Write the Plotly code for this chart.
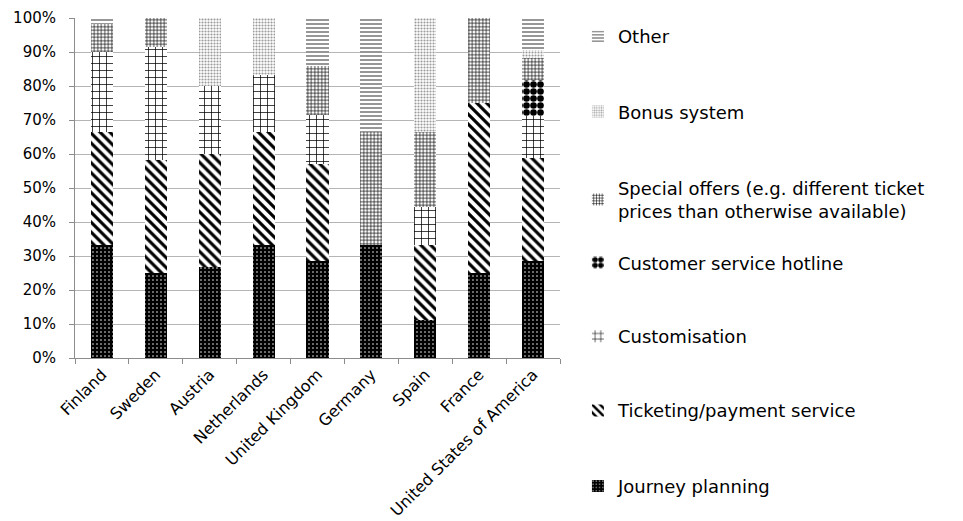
import plotly.graph_objects as go

countries = ["Finland", "Sweden", "Austria", "Netherlands", "United Kingdom",
             "Germany", "Spain", "France", "United States of America"]

journey_planning = [33.3, 25.0, 26.7, 33.3, 28.6, 33.3, 11.1, 25.0, 28.4]
ticketing_payment = [33.3, 33.3, 33.3, 33.3, 28.6, 0.0, 22.2, 50.0, 30.4]
customisation = [23.3, 33.3, 20.0, 16.7, 14.3, 0.0, 11.1, 0.0, 12.4]
customer_hotline = [0.0, 0.0, 0.0, 0.0, 0.0, 0.0, 0.0, 0.0, 10.7]
special_offers = [8.3, 8.4, 0.0, 0.0, 14.3, 33.3, 22.2, 25.0, 6.3]
bonus_system = [0.0, 0.0, 20.0, 16.7, 0.0, 0.0, 33.4, 0.0, 2.5]
other = [1.8, 0.0, 0.0, 0.0, 14.2, 33.4, 0.0, 0.0, 9.3]

y_ticks = [0, 10, 20, 30, 40, 50, 60, 70, 80, 90, 100]
y_tick_labels = ["0%", "10%", "20%", "30%", "40%", "50%", "60%", "70%", "80%", "90%", "100%"]

FONT = "DejaVu Sans"


def pat(shape, fg, bg, size, solidity):
    return dict(shape=shape, fgcolor=fg, bgcolor=bg, size=size,
                solidity=solidity, fgopacity=1, fillmode="replace")


series = [
    ("Journey planning", journey_planning,
     dict(color="black", pattern=pat(".", "white", "black", 4, 0.12))),
    ("Ticketing/payment service", ticketing_payment,
     dict(color="white", pattern=pat("\\", "black", "white", 7, 0.45))),
    ("Customisation", customisation,
     dict(color="white", pattern=pat("+", "black", "white", 7, 0.2))),
    ("Customer service hotline", customer_hotline,
     dict(color="white", pattern=pat(".", "black", "white", 7, 0.7))),
    ("Special offers (e.g. different ticket<br>prices than otherwise available)", special_offers,
     dict(color="white", pattern=pat("+", "black", "white", 3.5, 0.35))),
    ("Bonus system", bonus_system,
     dict(color="white", pattern=pat(".", "#9a9a9a", "white", 3, 0.4))),
    ("Other", other,
     dict(color="white", pattern=pat("-", "#6a6a6a", "white", 4, 0.35))),
]

# legend vertical positions (paper coords), one legend per series
legend_y = [-0.377, -0.155, 0.063, 0.280, 0.466, 0.724, 0.945]

fig = go.Figure()
for i, (name, vals, marker) in enumerate(series):
    lg = "legend" if i == 0 else f"legend{i+1}"
    fig.add_trace(go.Bar(
        x=countries, y=vals, name=name,
        marker=dict(line=dict(width=0), **marker),
        legend=lg,
    ))

layout_legends = {}
for i, yy in enumerate(legend_y):
    key = "legend" if i == 0 else f"legend{i+1}"
    layout_legends[key] = dict(
        x=1.037, xanchor="left", y=yy, yanchor="middle",
        font=dict(family=FONT, size=18, color="black"),
        bgcolor="rgba(0,0,0,0)", borderwidth=0,
    )

fig.update_layout(
    barmode="stack",
    bargap=0.59,
    width=963, height=521,
    margin=dict(l=75, r=403, t=18, b=163, autoexpand=False),
    paper_bgcolor="white", plot_bgcolor="white",
    font=dict(family=FONT, size=15, color="black"),
    showlegend=True,
    **layout_legends,
)

fig.update_xaxes(
    type="category", automargin=False,
    showline=True, linecolor="#8c8c8c", linewidth=1,
    ticks="outside", tickson="boundaries", ticklen=5, tickcolor="#8c8c8c",
    tickangle=-45, tickfont=dict(family=FONT, size=16, color="black"),
    showgrid=False,
)
fig.update_yaxes(
    range=[0, 100], tickvals=y_ticks, ticktext=y_tick_labels, automargin=False,
    showline=True, linecolor="#8c8c8c", linewidth=1,
    ticks="outside", ticklen=5, tickcolor="#8c8c8c", ticklabelstandoff=10,
    showgrid=True, gridcolor="#b5b5b5", gridwidth=1,
    tickfont=dict(family=FONT, size=15, color="black"),
    zeroline=False,
)

fig.write_html("out.html")
